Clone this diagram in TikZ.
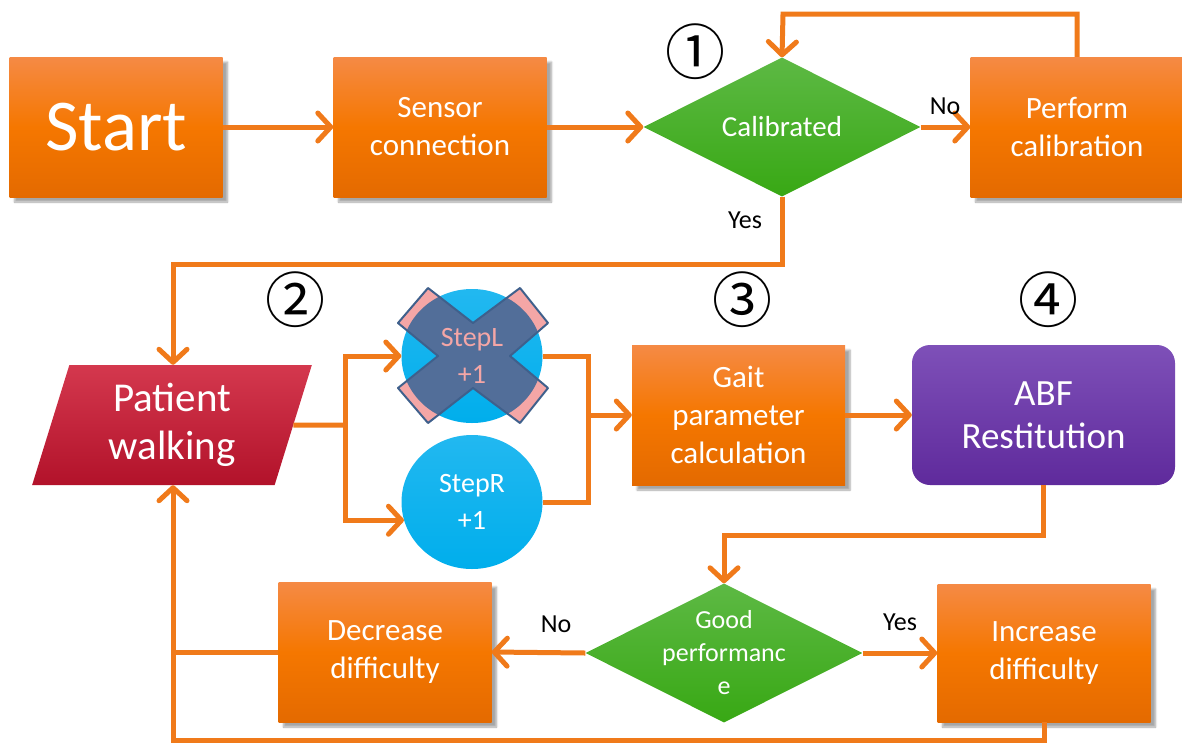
\documentclass[tikz,border=0pt]{standalone}
\usepackage{fontspec}
\setmainfont{Carlito}
\newfontfamily\cjkfont{Noto Sans CJK SC}
\usetikzlibrary{arrows.meta,shapes.geometric,shadows.blur,calc}
\definecolor{lnc}{HTML}{F07A1A}
\definecolor{obTop}{HTML}{F58A45}
\definecolor{obMid}{HTML}{F57700}
\definecolor{obBot}{HTML}{E46A00}
\definecolor{gTop}{HTML}{5DB944}
\definecolor{gBot}{HTML}{38A814}
\definecolor{pTop}{HTML}{7E50B8}
\definecolor{pBot}{HTML}{5F2A9C}
\definecolor{rTop}{HTML}{D4384E}
\definecolor{rBot}{HTML}{B2122A}
\definecolor{cyanA}{HTML}{22B8F0}
\definecolor{cyanB}{HTML}{00AEEC}
\definecolor{crossPink}{HTML}{F4A6A6}
\definecolor{crossIn}{HTML}{526E99}
\definecolor{crossEdge}{HTML}{3F608C}
\begin{document}
\begin{tikzpicture}[x=1pt,y=-1pt,
  obox/.style={rectangle, minimum width=213pt, minimum height=140pt, inner sep=0pt,
    top color=obTop, bottom color=obBot, middle color=obMid, text=white, align=center,
    blur shadow={shadow xshift=5pt, shadow yshift=-5pt, shadow opacity=35, shadow blur steps=6}},
  gdia/.style={diamond, minimum width=277pt, minimum height=139pt, inner sep=0pt,
    top color=gTop, bottom color=gBot},
  cball/.style={ellipse, minimum width=141pt, minimum height=134pt, inner sep=0pt,
    top color=cyanA, bottom color=cyanB},
  wtxt/.style={text=white, align=center, inner sep=0pt},
  lbl/.style={text=black, font=\fontsize{26}{30}\selectfont, inner sep=0pt},
  circnum/.style={font=\cjkfont\fontsize{60}{60}\selectfont, inner sep=0pt},
  lnk/.style={draw=lnc, line width=5pt},
  arr/.style={lnk, -{Straight Barb[length=13pt,width=28pt,round]}},
  bigfont/.style={font=\fontsize{31}{38}\selectfont}
]
\useasboundingbox (0,0) rectangle (1182,742);

% top row
\node[obox, font=\fontsize{73}{80}\selectfont] (start) at (116,127) {Start};
\node[obox, bigfont] (sensor) at (440,127) {Sensor\\connection};
\node[gdia] (calib) at (782,127) {};
\node[wtxt, font=\fontsize{29}{36}\selectfont] (calibT) at (calib.center) {Calibrated};
\node[obox, bigfont] (perform) at (1077,127) {Perform\\calibration};
\node[circnum] (n1) at (695,52) {①};

% middle row
\node[trapezium, trapezium left angle=74.6, trapezium right angle=105.4,
  trapezium stretches=true, minimum width=280pt, minimum height=120pt, inner sep=0pt,
  top color=rTop, bottom color=rBot, text=white, align=center,
  font=\fontsize{41}{48}\selectfont] (patient) at (172,425) {Patient\\walking};
\node[circnum] (n2) at (295,300) {②};
\node[cball] (stepL) at (472,356) {};
\node[cball] (stepR) at (472,502) {};
\node[circnum] (n3) at (742,300) {③};
\node[obox, bigfont] (gait) at (738.5,415) {Gait\\parameter\\calculation};
\node[circnum] (n4) at (1048,300) {④};
\node[rectangle, rounded corners=18pt, minimum width=263pt, minimum height=140pt, inner sep=0pt,
  top color=pTop, bottom color=pBot, text=white, align=center,
  font=\fontsize{37}{43}\selectfont] (abf) at (1043.5,415) {ABF\\Restitution};

% cross over StepL
\path[fill=crossPink] (428,288) -- (473,323) -- (520,288) -- (548,323) -- (510,356) -- (548,388)
  -- (520,423) -- (473,388) -- (428,423) -- (398,388) -- (438,356) -- (398,323) -- cycle;
\begin{scope}
  \clip (stepL.center) ellipse [x radius=70.5pt, y radius=67pt];
  \path[fill=crossIn] (428,288) -- (473,323) -- (520,288) -- (548,323) -- (510,356) -- (548,388)
    -- (520,423) -- (473,388) -- (428,423) -- (398,388) -- (438,356) -- (398,323) -- cycle;
\end{scope}
\draw[crossEdge, line width=2pt, line join=round] (428,288) -- (473,323) -- (520,288) -- (548,323) -- (510,356) -- (548,388)
  -- (520,423) -- (473,388) -- (428,423) -- (398,388) -- (438,356) -- (398,323) -- cycle;
\node[align=center, inner sep=0pt, text=crossPink, font=\fontsize{28}{37}\selectfont] (stepLT) at (stepL.center) {StepL\\+1};
\node[wtxt, font=\fontsize{28}{37}\selectfont] (stepRT) at (stepR.center) {StepR\\+1};

% bottom row
\node[gdia] (good) at (724,653) {};
\node[wtxt, font=\fontsize{26}{33}\selectfont] (goodT) at (good.center) {Good\\performanc\\e};
\node[obox, bigfont] (decrease) at (385,652) {Decrease\\difficulty};
\node[obox, bigfont, minimum height=138pt] (increase) at (1044,653) {Increase\\difficulty};

% coordinates
\coordinate (c1) at (783,14);
\coordinate (c2) at (173,264);
\coordinate (cb) at (345,425);
\coordinate (cm) at (588,415);
\coordinate (c3) at (724,535);
\coordinate (c4) at (173,740);

% connectors
\draw[arr] (start) -- (sensor);
\draw[arr] (sensor) -- (calib.west);
\draw[arr] (calib.east) -- (perform.west);
\draw[arr] (perform.north) |- (c1) -- (calib.north);
\draw[arr] (calib.south) |- (c2) -- (patient.north -| c2);
\draw[lnk] (patient.east) -- (cb);
\draw[arr] (cb) |- (stepL.west);
\draw[arr] (cb) |- (stepR.195);
\draw[lnk] (stepL.east) -| (cm) |- (stepR.east);
\draw[arr] (cm) -- (gait.west);
\draw[arr] (gait) -- (abf);
\draw[arr] (abf.south) |- (c3) -- (good.north);
\draw[arr] (good.west) -- (decrease.east);
\draw[arr] (good.east) -- (increase.west);
\draw[arr] (increase.south) |- (c4) -- (patient.south -| c4);
\draw[lnk] (decrease.west) -- (decrease.west -| c4);

% labels
\node[lbl] (lno1) at (945,106) {No};
\node[lbl] (lyes1) at (745,220) {Yes};
\node[lbl] (lno2) at (556,624) {No};
\node[lbl] (lyes2) at (900,622) {Yes};
\end{tikzpicture}
\end{document}
